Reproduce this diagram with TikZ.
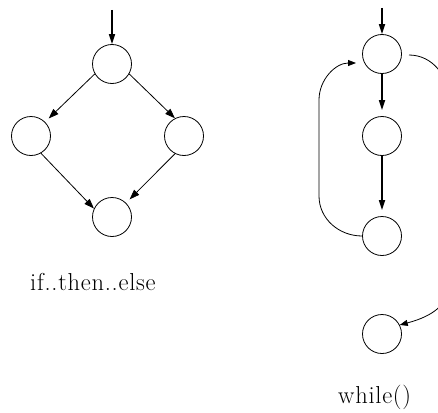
\documentclass[tikz,border=0pt]{standalone}
\usepackage{fontspec}
\setmainfont{Latin Modern Roman}[LetterSpace=3]
\usetikzlibrary{arrows.meta}
\begin{document}
\begin{tikzpicture}[x=1pt,y=-1pt,
  state/.style={circle,draw,line width=0.8pt,minimum size=39pt,inner sep=0pt},
  thinarr/.style={line width=0.8pt,-{Triangle[length=10pt,width=7pt]}},
  thickarr/.style={line width=1.6pt,-{Triangle[length=10pt,width=6pt]}},
  looparr/.style={line width=0.8pt,-{Triangle[length=8pt,width=6pt]}},
  lbl/.style={anchor=base west,inner sep=0pt,font=\fontsize{24.5}{29}\selectfont}]
\useasboundingbox (0,0) rectangle (438,412);
% if..then..else
\node[state] (t1) at (112,64) {};
\node[state] (l1) at (31,136) {};
\node[state] (r1) at (184,136) {};
\node[state] (b1) at (112,217) {};
\coordinate (in1) at (112,10);
\draw[thickarr] (in1) -- (t1);
\draw[thinarr,shorten >=5pt] (t1.210) -- (l1.45);
\draw[thinarr] (t1.-30) -- (r1.117);
\draw[thinarr] (l1.-60) -- (b1.155);
\draw[thinarr,shorten >=5pt] (r1.243) -- (b1.45);
\node[lbl] (lab1) at (30,290) {if..then..else};
% while()
\node[state] (w1) at (382,54) {};
\node[state] (w2) at (382,136) {};
\node[state] (w3) at (382,236) {};
\node[state] (w4) at (382,334) {};
\coordinate (in2) at (382,8);
\draw[thickarr] (in2) -- (w1);
\draw[thickarr,shorten >=6pt] (w1) -- (w2);
\draw[thickarr,shorten >=6pt] (w2) -- (w3);
\coordinate (la) at (319,196);
\coordinate (lb) at (319,100);
\coordinate (lt) at (356,63);
\draw[looparr] (w3.west) to[out=180,in=-90] (la) -- (lb) to[out=90,in=180] (lt);
\coordinate (ra) at (409,55);
\coordinate (rb) at (449,100);
\coordinate (rc) at (449,284);
\draw[looparr] (ra) to[out=0,in=90] (rb) -- (rc) to[out=-90,in=15] (w4.27);
\node[lbl] (lab2) at (338,403) {while()};
\end{tikzpicture}
\end{document}
